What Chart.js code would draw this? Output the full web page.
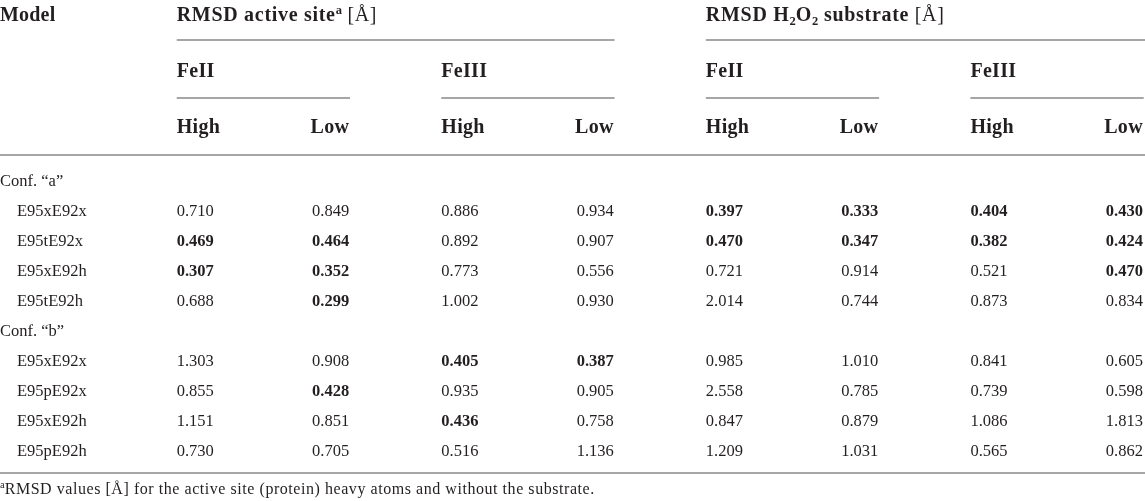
<!DOCTYPE html>
<html>
<head>
<meta charset="utf-8">
<script src="https://cdn.jsdelivr.net/npm/chart.js@4/dist/chart.umd.min.js"></script>
<style>
html,body{margin:0;padding:0;background:#fff;}
#wrap{width:1145px;height:501px;}
</style>
</head>
<body>
<div id="wrap"><canvas id="c" width="1145" height="501"></canvas></div>
<script>
// ---- data ----
const groupLabels = ['RMSD active site', 'RMSD H\u2082O\u2082 substrate'];
const stateLabels = ['FeII', 'FeIII', 'FeII', 'FeIII'];
const spinLabels = ['High', 'Low'];
const confLabels = ['Conf. \u201ca\u201d', 'Conf. \u201cb\u201d'];
const models = ['E95xE92x', 'E95tE92x', 'E95xE92h', 'E95tE92h', 'E95xE92x', 'E95pE92x', 'E95xE92h', 'E95pE92h'];
const modelConf = [0, 0, 0, 0, 1, 1, 1, 1];

const asFeIIHigh   = [0.710, 0.469, 0.307, 0.688, 1.303, 0.855, 1.151, 0.730];
const asFeIILow    = [0.849, 0.464, 0.352, 0.299, 0.908, 0.428, 0.851, 0.705];
const asFeIIIHigh  = [0.886, 0.892, 0.773, 1.002, 0.405, 0.935, 0.436, 0.516];
const asFeIIILow   = [0.934, 0.907, 0.556, 0.930, 0.387, 0.905, 0.758, 1.136];
const subFeIIHigh  = [0.397, 0.470, 0.721, 2.014, 0.985, 2.558, 0.847, 1.209];
const subFeIILow   = [0.333, 0.347, 0.914, 0.744, 1.010, 0.785, 0.879, 1.031];
const subFeIIIHigh = [0.404, 0.382, 0.521, 0.873, 0.841, 0.739, 1.086, 0.565];
const subFeIIILow  = [0.430, 0.424, 0.470, 0.834, 0.605, 0.598, 1.813, 0.862];

// bold flags (best values), row indices
const asFeIIHighBold   = [1, 2];
const asFeIILowBold    = [1, 2, 3, 5];
const asFeIIIHighBold  = [4, 6];
const asFeIIILowBold   = [4];
const subFeIIHighBold  = [0, 1];
const subFeIILowBold   = [0, 1];
const subFeIIIHighBold = [0, 1];
const subFeIIILowBold  = [0, 1, 2];

const footnote = 'RMSD values [\u00c5] for the active site (protein) heavy atoms and without the substrate.';

// ---- layout (scale units) ----
const SUBW = 0.655;               // width of a FeII/FeIII block in x units
const columns = [
  {vals: asFeIIHigh,   bold: asFeIIHighBold,   block: 0, spin: 0},
  {vals: asFeIILow,    bold: asFeIILowBold,    block: 0, spin: 1},
  {vals: asFeIIIHigh,  bold: asFeIIIHighBold,  block: 1, spin: 0},
  {vals: asFeIIILow,   bold: asFeIIILowBold,   block: 1, spin: 1},
  {vals: subFeIIHigh,  bold: subFeIIHighBold,  block: 2, spin: 0},
  {vals: subFeIILow,   bold: subFeIILowBold,   block: 2, spin: 1},
  {vals: subFeIIIHigh, bold: subFeIIIHighBold, block: 3, spin: 0},
  {vals: subFeIIILow,  bold: subFeIIILowBold,  block: 3, spin: 1}
];
function colX(c) { return c.block + (c.spin ? SUBW - 0.003 : 0); }
function rowY(i) { return modelConf[i] === 0 ? i + 1 : i + 2; }

const datasets = columns.map((c, ci) => ({
  label: 'col' + ci,
  data: c.vals.map((v, i) => ({x: colX(c), y: rowY(i), v: v, b: c.bold.includes(i)})),
  pointRadius: 0,
  showLine: false,
  align: c.spin ? 'right' : 'left'
}));

const TXT = '#231f20';
const LINE = '#a6a6a6';
const SERIF = '"Liberation Serif", "Times New Roman", serif';
const REG = '16.5px ' + SERIF;
const BOLD_V = 'bold 16.5px ' + SERIF;
const HEAD = 'bold 20px ' + SERIF;

function runs(ctx, x, y, parts) {
  let cx = x;
  parts.forEach(p => {
    ctx.font = p.f;
    ctx.letterSpacing = (p.ls || 0) + 'px';
    ctx.fillText(p.t, cx, y + (p.dy || 0));
    cx += ctx.measureText(p.t).width;
  });
  ctx.letterSpacing = '0px';
}

const tablePlugin = {
  id: 'tablePlugin',
  afterDatasetsDraw(chart) {
    const ctx = chart.ctx;
    const xs = chart.scales.x, ys = chart.scales.y;
    const X = v => xs.getPixelForValue(v);
    const Y = v => ys.getPixelForValue(v);
    ctx.save();
    ctx.fillStyle = TXT;
    ctx.textBaseline = 'alphabetic';

    // lines
    ctx.strokeStyle = LINE;
    ctx.lineWidth = 2;
    function hline(x0, x1, yv) {
      ctx.beginPath();
      ctx.moveTo(x0, Math.round(Y(yv)) );
      ctx.lineTo(x1, Math.round(Y(yv)) );
      ctx.stroke();
    }
    hline(X(0), X(1 + SUBW), -4.867);
    hline(X(2), X(3 + SUBW) + 2, -4.867);
    for (let b = 0; b < 4; b++) hline(X(b), X(b + SUBW), -2.933);
    hline(0, chart.width, -1.033);
    hline(0, chart.width, 9.567);

    // header
    ctx.textAlign = 'left';
    runs(ctx, 0, Y(-5.5), [{t: 'Model', f: HEAD, ls: 0.2}]);
    const hsmall = 'bold 12.5px ' + SERIF;
    runs(ctx, X(0), Y(-5.5), [
      {t: groupLabels[0], f: HEAD, ls: 0.7},
      {t: 'a', f: hsmall, dy: -7},
      {t: ' [\u00c5]', f: '20px ' + SERIF, ls: 0.6}
    ]);
    runs(ctx, X(2), Y(-5.5), [
      {t: 'RMSD H', f: HEAD, ls: 0.7},
      {t: '2', f: hsmall, dy: 4},
      {t: 'O', f: HEAD, ls: 0.7},
      {t: '2', f: hsmall, dy: 4},
      {t: ' substrate ', f: HEAD, ls: 0.7},
      {t: '[\u00c5]', f: '20px ' + SERIF, ls: 0.6}
    ]);
    ctx.font = HEAD;
    ctx.letterSpacing = '0.3px';
    stateLabels.forEach((s, b) => ctx.fillText(s, X(b), Y(-3.633)));
    for (let b = 0; b < 4; b++) {
      ctx.textAlign = 'left';
      ctx.fillText(spinLabels[0], X(b), Y(-1.767));
      ctx.textAlign = 'right';
      ctx.fillText(spinLabels[1], X(b + SUBW - 0.003), Y(-1.767));
    }
    ctx.letterSpacing = '0px';

    // row labels
    ctx.textAlign = 'left';
    ctx.font = REG;
    ctx.fillText(confLabels[0], 0, Y(0));
    ctx.fillText(confLabels[1], 0, Y(5));
    models.forEach((m, i) => ctx.fillText(m, 17, Y(rowY(i))));

    // values from dataset elements
    chart.data.datasets.forEach((ds, di) => {
      const meta = chart.getDatasetMeta(di);
      ctx.textAlign = ds.align;
      meta.data.forEach((pt, i) => {
        const d = ds.data[i];
        ctx.font = d.b ? BOLD_V : REG;
        ctx.fillText(d.v.toFixed(3), pt.x, pt.y);
      });
    });

    // footnote
    ctx.textAlign = 'left';
    runs(ctx, 0, Y(10.267), [
      {t: 'a', f: '10.5px ' + SERIF, dy: -6},
      {t: footnote, f: '16px ' + SERIF, ls: 0.55}
    ]);
    ctx.restore();
  }
};

new Chart(document.getElementById('c'), {
  type: 'scatter',
  data: {datasets: datasets},
  options: {
    responsive: false,
    animation: false,
    events: [],
    layout: {padding: 0},
    plugins: {legend: {display: false}, tooltip: {enabled: false}, title: {display: false}},
    scales: {
      x: {type: 'linear', min: -0.668, max: 3.66, display: false},
      y: {type: 'linear', min: -6.2, max: 10.5, reverse: true, display: false}
    }
  },
  plugins: [tablePlugin]
});
</script>
</body>
</html>
